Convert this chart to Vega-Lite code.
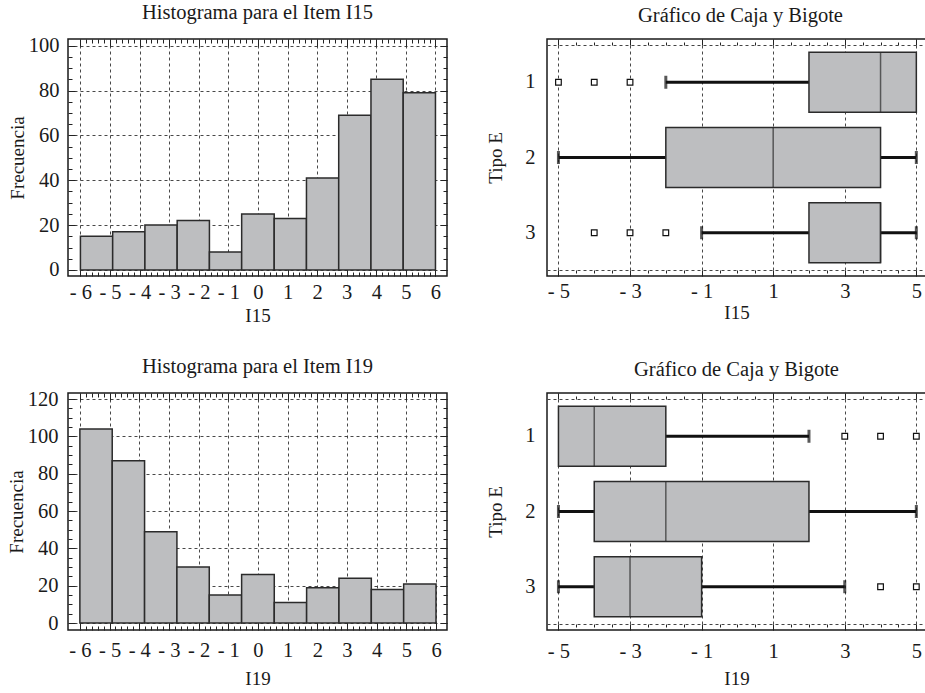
{
  "$schema": "https://vega.github.io/schema/vega-lite/v6.json",
  "padding": {"left": 6, "top": 2, "right": 0, "bottom": 0},
  "background": "white",
  "columns": 2,
  "spacing": {"row": 117, "column": 100},
  "bounds": "flush",
  "config": {
    "font": "Liberation Serif",
    "view": {"stroke": "#1a1a1a", "strokeWidth": 1.5},
    "style": {
      "guide-label": {"font": "Liberation Serif", "fill": "#1a1a1a"},
      "guide-title": {"font": "Liberation Serif", "fill": "#1a1a1a"},
      "group-title": {"font": "Liberation Serif"}
    },
    "axis": {
      "labelFont": "Liberation Serif", "labelFontSize": 20.5, "labelColor": "#1a1a1a",
      "titleFont": "Liberation Serif", "titleFontSize": 19, "titleFontWeight": "normal", "titleColor": "#1a1a1a",
      "domain": false, "tickColor": "#222", "tickWidth": 1,
      "gridColor": "#333", "gridDash": [3, 3], "gridWidth": 0.9,
      "labelOverlap": false, "labelFlush": false, "labelBound": false
    },
    "text": {"font": "Liberation Serif"},
    "title": {"font": "Liberation Serif", "fontSize": 20.5, "fontWeight": "normal", "color": "#1a1a1a", "offset": 12, "anchor": "middle", "frame": "group"}
  },
  "datasets": {
    "h15": [
      {"lo": -6, "hi": -4.91, "n": 15}, {"lo": -4.91, "hi": -3.82, "n": 17}, {"lo": -3.82, "hi": -2.73, "n": 20},
      {"lo": -2.73, "hi": -1.64, "n": 22}, {"lo": -1.64, "hi": -0.55, "n": 8}, {"lo": -0.55, "hi": 0.55, "n": 25},
      {"lo": 0.55, "hi": 1.64, "n": 23}, {"lo": 1.64, "hi": 2.73, "n": 41}, {"lo": 2.73, "hi": 3.82, "n": 69},
      {"lo": 3.82, "hi": 4.91, "n": 85}, {"lo": 4.91, "hi": 6, "n": 79}
    ],
    "h19": [
      {"lo": -6, "hi": -4.91, "n": 104}, {"lo": -4.91, "hi": -3.82, "n": 87}, {"lo": -3.82, "hi": -2.73, "n": 49},
      {"lo": -2.73, "hi": -1.64, "n": 30}, {"lo": -1.64, "hi": -0.55, "n": 15}, {"lo": -0.55, "hi": 0.55, "n": 26},
      {"lo": 0.55, "hi": 1.64, "n": 11}, {"lo": 1.64, "hi": 2.73, "n": 19}, {"lo": 2.73, "hi": 3.82, "n": 24},
      {"lo": 3.82, "hi": 4.91, "n": 18}, {"lo": 4.91, "hi": 6, "n": 21}
    ],
    "b15": [
      {"tipo": "1", "lo": -2, "q1": 2, "med": 4, "q3": 5, "hi": 5},
      {"tipo": "2", "lo": -5, "q1": -2, "med": 1, "q3": 4, "hi": 5},
      {"tipo": "3", "lo": -1, "q1": 2, "med": 4, "q3": 4, "hi": 5}
    ],
    "o15": [
      {"tipo": "1", "v": -5}, {"tipo": "1", "v": -4}, {"tipo": "1", "v": -3},
      {"tipo": "3", "v": -4}, {"tipo": "3", "v": -3}, {"tipo": "3", "v": -2}
    ],
    "b19": [
      {"tipo": "1", "lo": -5, "q1": -5, "med": -4, "q3": -2, "hi": 2},
      {"tipo": "2", "lo": -5, "q1": -4, "med": -2, "q3": 2, "hi": 5},
      {"tipo": "3", "lo": -5, "q1": -4, "med": -3, "q3": -1, "hi": 3}
    ],
    "o19": [
      {"tipo": "1", "v": 3}, {"tipo": "1", "v": 4}, {"tipo": "1", "v": 5},
      {"tipo": "3", "v": 4}, {"tipo": "3", "v": 5}
    ]
  },
  "concat": [
    {
      "width": 379, "height": 237,
      "title": {"text": "Histograma para el Item I15"},
      "data": {"name": "h15"},
      "layer": [
        {
          "mark": {"type": "bar", "fill": "#bdbec0", "stroke": "#2b2b2b", "strokeWidth": 1.5},
          "encoding": {
            "x": {"field": "lo", "type": "quantitative", "scale": {"domain": [-6.42, 6.39], "nice": false, "zero": false},
              "axis": {"orient": "bottom", "title": "I15", "labelFont": "Liberation Serif", "titleFont": "Liberation Serif", "values": [-6,-5.8,-5.6,-5.4,-5.2,-5,-4.8,-4.6,-4.4,-4.2,-4,-3.8,-3.6,-3.4,-3.2,-3,-2.8,-2.6,-2.4,-2.2,-2,-1.8,-1.6,-1.4,-1.2,-1,-0.8,-0.6,-0.4,-0.2,0,0.2,0.4,0.6,0.8,1,1.2,1.4,1.6,1.8,2,2.2,2.4,2.6,2.8,3,3.2,3.4,3.6,3.8,4,4.2,4.4,4.6,4.8,5,5.2,5.4,5.6,5.8,6],
                "labelExpr": "abs(datum.value - round(datum.value)) < 0.01 ? (datum.value < -0.01 ? '- ' + abs(round(datum.value)) : '' + round(datum.value)) : ''",
                "tickSize": {"condition": {"test": "abs(datum.value - round(datum.value)) < 0.01", "value": -7}, "value": -4},
                "gridOpacity": {"condition": {"test": "abs(datum.value - round(datum.value)) < 0.01", "value": 1}, "value": 0},
                "grid": true, "labelPadding": 13, "titlePadding": 1}},
            "x2": {"field": "hi"},
            "y": {"field": "n", "type": "quantitative", "scale": {"domain": [-2.7, 103], "nice": false, "zero": false},
              "axis": {"orient": "left", "title": "Frecuencia", "labelFont": "Liberation Serif", "titleFont": "Liberation Serif", "values": [0,5,10,15,20,25,30,35,40,45,50,55,60,65,70,75,80,85,90,95,100],
                "labelExpr": "datum.value % 20 == 0 ? datum.label : ''",
                "tickSize": {"condition": {"test": "datum.value % 20 == 0", "value": -7}, "value": -4},
                "gridOpacity": {"condition": {"test": "datum.value % 20 == 0", "value": 1}, "value": 0},
                "grid": true, "labelPadding": 16, "titlePadding": 1}},
            "y2": {"datum": 0}
          }
        },
        {
          "mark": {"type": "bar", "opacity": 0},
          "encoding": {
            "x": {"field": "lo", "type": "quantitative",
              "axis": {"orient": "top", "title": null, "labels": false, "grid": false, "values": [-6,-5.8,-5.6,-5.4,-5.2,-5,-4.8,-4.6,-4.4,-4.2,-4,-3.8,-3.6,-3.4,-3.2,-3,-2.8,-2.6,-2.4,-2.2,-2,-1.8,-1.6,-1.4,-1.2,-1,-0.8,-0.6,-0.4,-0.2,0,0.2,0.4,0.6,0.8,1,1.2,1.4,1.6,1.8,2,2.2,2.4,2.6,2.8,3,3.2,3.4,3.6,3.8,4,4.2,4.4,4.6,4.8,5,5.2,5.4,5.6,5.8,6],
                "tickSize": {"condition": {"test": "abs(datum.value - round(datum.value)) < 0.01", "value": -7}, "value": -4}}},
            "x2": {"field": "hi"},
            "y": {"field": "n", "type": "quantitative",
              "axis": {"orient": "right", "title": null, "labels": false, "grid": false, "values": [0,5,10,15,20,25,30,35,40,45,50,55,60,65,70,75,80,85,90,95,100],
                "tickSize": {"condition": {"test": "datum.value % 20 == 0", "value": -7}, "value": -4}}},
            "y2": {"datum": 0}
          }
        }
      ]
    },
    {
      "width": 379, "height": 237,
      "title": {"text": "Gráfico de Caja y Bigote", "dx": 4},
      "layer": [
        {
          "data": {"name": "b15"},
          "mark": {"type": "rule", "strokeWidth": 3, "color": "#111"},
          "encoding": {
            "x": {"field": "lo", "type": "quantitative", "scale": {"domain": [-5.32, 5.27], "nice": false, "zero": false},
              "axis": {"orient": "top", "title": null, "labels": false, "grid": false, "values": [-5,-4.5,-4,-3.5,-3,-2.5,-2,-1.5,-1,-0.5,0,0.5,1,1.5,2,2.5,3,3.5,4,4.5,5],
                "tickSize": {"condition": {"test": "abs(datum.value % 2) == 1", "value": 6}, "value": 3},
                "offset": -6, "domain": true, "domainDash": [3, 3], "domainColor": "#444", "domainWidth": 1}},
            "x2": {"field": "q1"},
            "y": {"field": "tipo", "type": "nominal", "scale": {"domain": ["1", "2", "3"], "paddingInner": 0, "paddingOuter": 0.075},
              "axis": {"orient": "left", "title": "Tipo E", "labelFont": "Liberation Serif", "titleFont": "Liberation Serif", "ticks": false, "grid": false, "labelAngle": 0, "labelPadding": 12, "titlePadding": 19}}
          }
        },
        {
          "data": {"name": "b15"},
          "mark": {"type": "rule", "strokeWidth": 3, "color": "#111"},
          "encoding": {
            "x": {"field": "q3", "type": "quantitative", "axis": null},
            "x2": {"field": "hi"},
            "y": {"field": "tipo", "type": "nominal"}
          }
        },
        {
          "data": {"name": "b15"},
          "mark": {"type": "bar", "height": {"band": 0.8}, "fill": "#bdbec0", "stroke": "#2b2b2b", "strokeWidth": 1.5},
          "encoding": {
            "x": {"field": "q1", "type": "quantitative",
              "axis": {"orient": "bottom", "title": "I15", "labelFont": "Liberation Serif", "titleFont": "Liberation Serif", "values": [-5,-4.5,-4,-3.5,-3,-2.5,-2,-1.5,-1,-0.5,0,0.5,1,1.5,2,2.5,3,3.5,4,4.5,5],
                "labelExpr": "abs(datum.value % 2) == 1 ? (datum.value < 0 ? '- ' + abs(datum.value) : '' + datum.value) : ''",
                "tickSize": {"condition": {"test": "abs(datum.value % 2) == 1", "value": 6}, "value": 3},
                "gridOpacity": {"condition": {"test": "abs(datum.value % 2) == 1", "value": 1}, "value": 0},
                "grid": true, "offset": -6, "domain": true, "domainDash": [3, 3], "domainColor": "#444", "domainWidth": 1,
                "labelPadding": 5, "titlePadding": 2}},
            "x2": {"field": "q3"},
            "y": {"field": "tipo", "type": "nominal"}
          }
        },
        {
          "data": {"name": "b15"},
          "mark": {"type": "tick", "size": 60, "thickness": 1.5, "color": "#2b2b2b"},
          "encoding": {
            "x": {"field": "med", "type": "quantitative", "axis": null},
            "y": {"field": "tipo", "type": "nominal"}
          }
        },
        {
          "data": {"name": "b15"},
          "transform": [{"filter": "datum.lo < datum.q1"}],
          "mark": {"type": "tick", "size": 13, "thickness": 3, "color": "#111"},
          "encoding": {
            "x": {"field": "lo", "type": "quantitative", "axis": null},
            "y": {"field": "tipo", "type": "nominal"}
          }
        },
        {
          "data": {"name": "b15"},
          "transform": [{"filter": "datum.hi > datum.q3"}],
          "mark": {"type": "tick", "size": 13, "thickness": 3, "color": "#111"},
          "encoding": {
            "x": {"field": "hi", "type": "quantitative", "axis": null},
            "y": {"field": "tipo", "type": "nominal"}
          }
        },
        {
          "data": {"name": "o15"},
          "mark": {"type": "point", "shape": "square", "size": 32, "filled": true, "fill": "white", "stroke": "#111", "strokeWidth": 1.2, "opacity": 1},
          "encoding": {
            "x": {"field": "v", "type": "quantitative", "axis": null},
            "y": {"field": "tipo", "type": "nominal"}
          }
        }
      ]
    },
    {
      "width": 379, "height": 237,
      "title": {"text": "Histograma para el Item I19"},
      "data": {"name": "h19"},
      "layer": [
        {
          "mark": {"type": "bar", "fill": "#bdbec0", "stroke": "#2b2b2b", "strokeWidth": 1.5},
          "encoding": {
            "x": {"field": "lo", "type": "quantitative", "scale": {"domain": [-6.4, 6.37], "nice": false, "zero": false},
              "axis": {"orient": "bottom", "title": "I19", "labelFont": "Liberation Serif", "titleFont": "Liberation Serif", "values": [-6,-5.8,-5.6,-5.4,-5.2,-5,-4.8,-4.6,-4.4,-4.2,-4,-3.8,-3.6,-3.4,-3.2,-3,-2.8,-2.6,-2.4,-2.2,-2,-1.8,-1.6,-1.4,-1.2,-1,-0.8,-0.6,-0.4,-0.2,0,0.2,0.4,0.6,0.8,1,1.2,1.4,1.6,1.8,2,2.2,2.4,2.6,2.8,3,3.2,3.4,3.6,3.8,4,4.2,4.4,4.6,4.8,5,5.2,5.4,5.6,5.8,6],
                "labelExpr": "abs(datum.value - round(datum.value)) < 0.01 ? (datum.value < -0.01 ? '- ' + abs(round(datum.value)) : '' + round(datum.value)) : ''",
                "tickSize": {"condition": {"test": "abs(datum.value - round(datum.value)) < 0.01", "value": -7}, "value": -4},
                "gridOpacity": {"condition": {"test": "abs(datum.value - round(datum.value)) < 0.01", "value": 1}, "value": 0},
                "grid": true, "labelPadding": 17, "titlePadding": 6}},
            "x2": {"field": "hi"},
            "y": {"field": "n", "type": "quantitative", "scale": {"domain": [-3.7, 123.3], "nice": false, "zero": false},
              "axis": {"orient": "left", "title": "Frecuencia", "labelFont": "Liberation Serif", "titleFont": "Liberation Serif", "values": [0,5,10,15,20,25,30,35,40,45,50,55,60,65,70,75,80,85,90,95,100,105,110,115,120],
                "labelExpr": "datum.value % 20 == 0 ? datum.label : ''",
                "tickSize": {"condition": {"test": "datum.value % 20 == 0", "value": -7}, "value": -4},
                "gridOpacity": {"condition": {"test": "datum.value % 20 == 0", "value": 1}, "value": 0},
                "grid": true, "labelPadding": 17, "titlePadding": 1}},
            "y2": {"datum": 0}
          }
        },
        {
          "mark": {"type": "bar", "opacity": 0},
          "encoding": {
            "x": {"field": "lo", "type": "quantitative",
              "axis": {"orient": "top", "title": null, "labels": false, "grid": false, "values": [-6,-5.8,-5.6,-5.4,-5.2,-5,-4.8,-4.6,-4.4,-4.2,-4,-3.8,-3.6,-3.4,-3.2,-3,-2.8,-2.6,-2.4,-2.2,-2,-1.8,-1.6,-1.4,-1.2,-1,-0.8,-0.6,-0.4,-0.2,0,0.2,0.4,0.6,0.8,1,1.2,1.4,1.6,1.8,2,2.2,2.4,2.6,2.8,3,3.2,3.4,3.6,3.8,4,4.2,4.4,4.6,4.8,5,5.2,5.4,5.6,5.8,6],
                "tickSize": {"condition": {"test": "abs(datum.value - round(datum.value)) < 0.01", "value": -7}, "value": -4}}},
            "x2": {"field": "hi"},
            "y": {"field": "n", "type": "quantitative",
              "axis": {"orient": "right", "title": null, "labels": false, "grid": false, "values": [0,5,10,15,20,25,30,35,40,45,50,55,60,65,70,75,80,85,90,95,100,105,110,115,120],
                "tickSize": {"condition": {"test": "datum.value % 20 == 0", "value": -7}, "value": -4}}},
            "y2": {"datum": 0}
          }
        }
      ]
    },
    {
      "width": 379, "height": 237,
      "title": {"text": "Gráfico de Caja y Bigote"},
      "layer": [
        {
          "data": {"name": "b19"},
          "mark": {"type": "rule", "strokeWidth": 3, "color": "#111"},
          "encoding": {
            "x": {"field": "lo", "type": "quantitative", "scale": {"domain": [-5.32, 5.27], "nice": false, "zero": false},
              "axis": {"orient": "top", "title": null, "labels": false, "grid": false, "values": [-5,-4.5,-4,-3.5,-3,-2.5,-2,-1.5,-1,-0.5,0,0.5,1,1.5,2,2.5,3,3.5,4,4.5,5],
                "tickSize": {"condition": {"test": "abs(datum.value % 2) == 1", "value": 6}, "value": 3},
                "offset": -6, "domain": true, "domainDash": [3, 3], "domainColor": "#444", "domainWidth": 1}},
            "x2": {"field": "q1"},
            "y": {"field": "tipo", "type": "nominal", "scale": {"domain": ["1", "2", "3"], "paddingInner": 0, "paddingOuter": 0.075},
              "axis": {"orient": "left", "title": "Tipo E", "labelFont": "Liberation Serif", "titleFont": "Liberation Serif", "ticks": false, "grid": false, "labelAngle": 0, "labelPadding": 12, "titlePadding": 19}}
          }
        },
        {
          "data": {"name": "b19"},
          "mark": {"type": "rule", "strokeWidth": 3, "color": "#111"},
          "encoding": {
            "x": {"field": "q3", "type": "quantitative", "axis": null},
            "x2": {"field": "hi"},
            "y": {"field": "tipo", "type": "nominal"}
          }
        },
        {
          "data": {"name": "b19"},
          "mark": {"type": "bar", "height": {"band": 0.8}, "fill": "#bdbec0", "stroke": "#2b2b2b", "strokeWidth": 1.5},
          "encoding": {
            "x": {"field": "q1", "type": "quantitative",
              "axis": {"orient": "bottom", "title": "I19", "labelFont": "Liberation Serif", "titleFont": "Liberation Serif", "values": [-5,-4.5,-4,-3.5,-3,-2.5,-2,-1.5,-1,-0.5,0,0.5,1,1.5,2,2.5,3,3.5,4,4.5,5],
                "labelExpr": "abs(datum.value % 2) == 1 ? (datum.value < 0 ? '- ' + abs(datum.value) : '' + datum.value) : ''",
                "tickSize": {"condition": {"test": "abs(datum.value % 2) == 1", "value": 6}, "value": 3},
                "gridOpacity": {"condition": {"test": "abs(datum.value % 2) == 1", "value": 1}, "value": 0},
                "grid": true, "offset": -6, "domain": true, "domainDash": [3, 3], "domainColor": "#444", "domainWidth": 1,
                "labelPadding": 11, "titlePadding": 8}},
            "x2": {"field": "q3"},
            "y": {"field": "tipo", "type": "nominal"}
          }
        },
        {
          "data": {"name": "b19"},
          "mark": {"type": "tick", "size": 60, "thickness": 1.5, "color": "#2b2b2b"},
          "encoding": {
            "x": {"field": "med", "type": "quantitative", "axis": null},
            "y": {"field": "tipo", "type": "nominal"}
          }
        },
        {
          "data": {"name": "b19"},
          "transform": [{"filter": "datum.lo < datum.q1"}],
          "mark": {"type": "tick", "size": 13, "thickness": 3, "color": "#111"},
          "encoding": {
            "x": {"field": "lo", "type": "quantitative", "axis": null},
            "y": {"field": "tipo", "type": "nominal"}
          }
        },
        {
          "data": {"name": "b19"},
          "transform": [{"filter": "datum.hi > datum.q3"}],
          "mark": {"type": "tick", "size": 13, "thickness": 3, "color": "#111"},
          "encoding": {
            "x": {"field": "hi", "type": "quantitative", "axis": null},
            "y": {"field": "tipo", "type": "nominal"}
          }
        },
        {
          "data": {"name": "o19"},
          "mark": {"type": "point", "shape": "square", "size": 32, "filled": true, "fill": "white", "stroke": "#111", "strokeWidth": 1.2, "opacity": 1},
          "encoding": {
            "x": {"field": "v", "type": "quantitative", "axis": null},
            "y": {"field": "tipo", "type": "nominal"}
          }
        }
      ]
    }
  ]
}
